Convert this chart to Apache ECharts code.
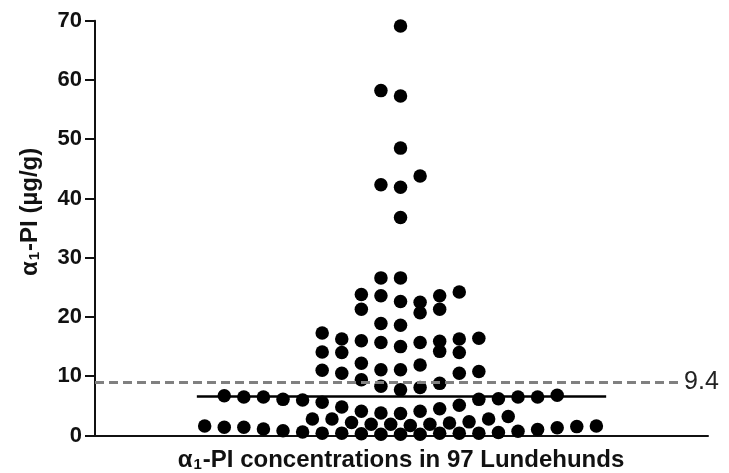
<!DOCTYPE html>
<html>
<head>
<meta charset="utf-8">
<script src="https://cdn.jsdelivr.net/npm/echarts@6/dist/echarts.min.js"></script>
<style>
  html, body { margin: 0; padding: 0; background: #fff; }
  #chart { width: 729px; height: 473px; }
</style>
</head>
<body>
<div id="chart"></div>
<script>
// swarm lane of each dog (column offset from centre) and its α1-PI value (µg/g)
const lane = [
  -2, -1, 0, 1, 2, 3, -2, 1, 2, -1, 0,
  -4, -3, -2, -1, 0, 1, 2, 3, 4,
  -4, -3, 2, 3, -2, 1,
  -4, -3, -1, 0, 3, 4,
  -2, -1, 0, 1, 2,
  -9, -8, -7, -6, -5, -4, 4, 5, 6, 7, 8,
  -3, -2, -1, 0, 1, 2, 3,
  -4.5, -3.5, -2.5, -1.5, -0.5, 0.5, 1.5, 2.5, 3.5, 4.5, 5.5,
  -10, -9, -8, -7, -6, -5, -4, -3, -2, -1, 0, 1, 2, 3, 4, 5, 6, 7, 8, 9, 10,
  -1, 0, 0, -1, 0, 1, 0, -1, 0, 0,
];
const conc = [
  23.8, 23.6, 22.6, 22.5, 23.6, 24.2, 21.3, 20.7, 21.3, 18.9, 18.6,
  17.3, 16.3, 16.0, 15.7, 15.0, 15.7, 15.9, 16.3, 16.4,
  14.1, 14.0, 14.2, 14.0, 12.2, 11.9,
  11.0, 10.5, 11.1, 11.1, 10.5, 10.8,
  9.4, 8.3, 7.7, 8.1, 8.8,
  6.7, 6.5, 6.5, 6.1, 6.0, 5.6, 6.1, 6.2, 6.5, 6.5, 6.8,
  4.8, 4.1, 3.8, 3.7, 4.1, 4.5, 5.1,
  2.8, 2.8, 2.2, 1.9, 1.9, 1.7, 1.9, 2.1, 2.3, 2.8, 3.2,
  1.6, 1.4, 1.4, 1.1, 0.8, 0.6, 0.4, 0.4, 0.3, 0.2, 0.2, 0.2, 0.4, 0.4, 0.4, 0.5, 0.7, 1.0, 1.3, 1.5, 1.6,
  26.6, 26.6, 36.8, 42.3, 41.9, 43.8, 48.5, 58.2, 57.3, 69.1,
];
const yTicks = [0, 10, 20, 30, 40, 50, 60, 70];
const median = 6.64;
const cutoff = 9.05;
const cutoffLabel = '9.4';

const chart = echarts.init(document.getElementById('chart'));
const font = 'Liberation Sans, Arial, sans-serif';
const ink = '#111';

// rich text pieces for "α1-..." with a subscript 1
const richTitle = (size) => ({
  a: { fontFamily: font, fontWeight: 'bold', fontSize: size, fill: ink, color: ink },
  s: { fontFamily: font, fontWeight: 'bold', fontSize: Math.round(size * 0.62), fill: ink, color: ink,
       verticalAlign: 'bottom', padding: [Math.round(size * 0.3), 1, 0, 1] },
});

const option = {
  animation: false,
  backgroundColor: '#fff',
  grid: { left: 95, right: 21, top: 20.7, bottom: 37.5 },
  xAxis: {
    type: 'value',
    min: -15.6,
    max: 15.7,
    axisLine: { show: true, onZero: false, lineStyle: { color: ink, width: 2 } },
    axisTick: { show: false },
    axisLabel: { show: false },
    splitLine: { show: false },
  },
  yAxis: {
    type: 'value',
    min: yTicks[0],
    max: yTicks[yTicks.length - 1],
    interval: 10,
    axisLine: { show: true, onZero: false, lineStyle: { color: ink, width: 2 } },
    axisTick: { show: true, length: 10, lineStyle: { color: ink, width: 2 } },
    axisLabel: { margin: 13, fontFamily: font, fontWeight: 'bold', fontSize: 22, color: ink },
    splitLine: { show: false },
  },
  graphic: [
    {
      type: 'text',
      x: 30,
      y: 276,
      rotation: Math.PI / 2,
      style: {
        text: '{a|α}{s|1}{a|-PI (µg/g)}',
        align: 'left',
        verticalAlign: 'middle',
        rich: richTitle(24),
      },
    },
    {
      type: 'text',
      x: 401,
      y: 460,
      style: {
        text: '{a|α}{s|1}{a|-PI concentrations in 97 Lundehunds}',
        align: 'center',
        verticalAlign: 'middle',
        rich: richTitle(24),
      },
    },
  ],
  series: [
    {
      type: 'scatter',
      symbol: 'circle',
      symbolSize: 13.5,
      itemStyle: { color: '#000', opacity: 1 },
      data: conc.map((v, i) => [lane[i], v]),
      z: 2,
      markLine: {
        silent: true,
        symbol: 'none',
        label: { show: false },
        lineStyle: { color: '#000', width: 2.5, type: 'solid' },
        data: [[{ coord: [-10.4, median] }, { coord: [10.5, median] }]],
      },
    },
    {
      type: 'scatter',
      data: [],
      z: 5,
      markLine: {
        silent: true,
        symbol: 'none',
        label: {
          show: true,
          position: 'end',
          distance: 6,
          formatter: cutoffLabel,
          fontFamily: font,
          fontSize: 25,
          color: '#222',
        },
        lineStyle: { color: '#808080', width: 3, type: [9, 5] },
        data: [[{ coord: [-15.6, cutoff] }, { coord: [14.17, cutoff] }]],
      },
    },
  ],
};
chart.setOption(option);
</script>
</body>
</html>
